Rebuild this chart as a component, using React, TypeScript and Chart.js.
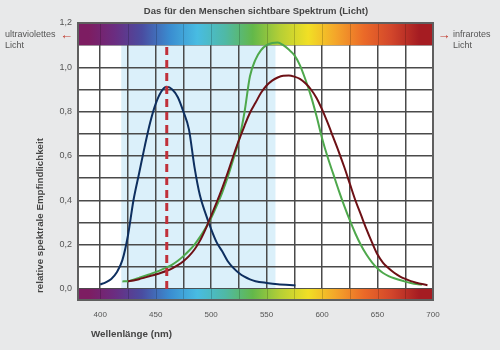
import React, { useEffect, useRef } from "react";
import { Chart, registerables } from "chart.js";

Chart.register(...registerables);

// ---------- text ----------
const titleText = "Das für den Menschen sichtbare Spektrum (Licht)";
const xTitle = "Wellenlänge (nm)";
const yTitle = "relative spektrale Empfindlichkeit";
const uvLabel = ["ultraviolettes", "Licht"];
const irLabel = ["infrarotes", "Licht"];

// ---------- axes ----------
const xMin = 380;
const xMax = 700;
const yMin = -0.05;
const yMax = 1.2;
const xGridTicks = [380, 400, 425, 450, 475, 500, 525, 550, 575, 600, 625, 650, 675, 700];
const xLabelTicks = [400, 450, 500, 550, 600, 650, 700];
const yGridTicks = [0, 0.1, 0.2, 0.3, 0.4, 0.5, 0.6, 0.7, 0.8, 0.9, 1.0, 1.1, 1.2];
const yLabelTicks = [0, 0.2, 0.4, 0.6, 0.8, 1.0, 1.2];

// ---------- bands ----------
const visibleBand = [419, 558];
const visibleBandTop = 1.1;
const spectrumTop = [1.1, 1.2];
const spectrumBottom = [-0.05, 0];
const spectrumNm = [390, 412.5, 437.5, 462.5, 487.5, 512.5, 537.5, 562.5, 587.5, 612.5, 637.5, 662.5, 687.5];
const spectrumColors = [
  "#7d1d62", "#6b2c80", "#4a4ca0", "#3a8cd0", "#48bce2", "#4fb9a6", "#63b84a",
  "#b6cf35", "#f1df25", "#f4a52a", "#eb6a28", "#d2462b", "#a51c22",
];

// ---------- series ----------
const blueNm = [400, 405, 410, 415, 420, 425, 430, 435, 440, 445, 450, 455, 460, 465, 470, 475, 480, 485, 490, 495, 500, 505, 510, 515, 520, 525, 530, 535, 540, 550, 560, 576];
const blueVal = [0.02, 0.03, 0.045, 0.075, 0.13, 0.24, 0.4, 0.52, 0.64, 0.75, 0.835, 0.89, 0.912, 0.9, 0.865, 0.8, 0.72, 0.55, 0.42, 0.34, 0.27, 0.21, 0.17, 0.125, 0.095, 0.072, 0.055, 0.043, 0.035, 0.027, 0.021, 0.016];

const greenNm = [420, 425, 430, 435, 440, 445, 450, 455, 460, 465, 470, 475, 480, 485, 490, 495, 500, 505, 510, 515, 520, 525, 530, 535, 540, 545, 550, 555, 560, 565, 570, 575, 580, 585, 590, 595, 600, 605, 610, 615, 620, 625, 630, 635, 640, 645, 650, 655, 660, 665, 670, 675, 680, 685, 690];
const greenVal = [0.034, 0.035, 0.042, 0.05, 0.058, 0.067, 0.076, 0.086, 0.097, 0.11, 0.127, 0.148, 0.172, 0.2, 0.235, 0.275, 0.32, 0.375, 0.435, 0.505, 0.585, 0.67, 0.795, 0.96, 1.035, 1.078, 1.1, 1.11, 1.112, 1.1, 1.08, 1.055, 1.01, 0.945, 0.87, 0.78, 0.68, 0.595, 0.52, 0.445, 0.375, 0.31, 0.25, 0.198, 0.155, 0.12, 0.092, 0.072, 0.058, 0.048, 0.04, 0.033, 0.027, 0.022, 0.019];

const redNm = [425, 430, 435, 440, 445, 450, 455, 460, 465, 470, 475, 480, 485, 490, 495, 500, 505, 510, 515, 520, 525, 530, 535, 540, 545, 550, 555, 560, 565, 570, 575, 580, 585, 590, 595, 600, 605, 610, 615, 620, 625, 630, 635, 640, 645, 650, 655, 660, 665, 670, 675, 680, 685, 690, 695];
const redVal = [0.034, 0.038, 0.044, 0.051, 0.058, 0.065, 0.073, 0.082, 0.093, 0.107, 0.125, 0.148, 0.178, 0.218, 0.27, 0.33, 0.39, 0.455, 0.525, 0.6, 0.67, 0.735, 0.795, 0.84, 0.885, 0.918, 0.94, 0.954, 0.962, 0.963, 0.958, 0.948, 0.928, 0.9, 0.862, 0.81, 0.75, 0.685, 0.62, 0.55, 0.475, 0.4, 0.335, 0.27, 0.21, 0.155, 0.118, 0.093, 0.073, 0.057, 0.045, 0.035, 0.028, 0.022, 0.017];

const markerNm = [460, 460];
const markerVal = [0, 1.1];

// ---------- styles ----------
const FONT = "'Liberation Sans', Arial, sans-serif";
const PAGE_BG = "#e8e9ea";
const TEXT_COLOR = "#555555";
const GRID_COLOR = "#4a4a4a";
const ARROW_COLOR = "#c0392b";

const toXY = (xs: number[], ys: number[]) => xs.map((x, i) => ({ x, y: ys[i] }));

const backgroundPlugin = {
  id: "bgBands",
  beforeDraw(chart: any) {
    const { ctx, chartArea, scales } = chart;
    const xs = scales.x;
    const ys = scales.y;
    ctx.save();
    ctx.fillStyle = "#ffffff";
    ctx.fillRect(chartArea.left, chartArea.top, chartArea.right - chartArea.left, chartArea.bottom - chartArea.top);
    const bx0 = xs.getPixelForValue(visibleBand[0]);
    const bx1 = xs.getPixelForValue(visibleBand[1]);
    const by0 = ys.getPixelForValue(visibleBandTop);
    const by1 = ys.getPixelForValue(0);
    ctx.fillStyle = "#dbf0fa";
    ctx.fillRect(bx0, by0, bx1 - bx0, by1 - by0);
    ctx.restore();
  },
  beforeDatasetsDraw(chart: any) {
    const { ctx, chartArea, scales } = chart;
    const xs = scales.x;
    const ys = scales.y;
    const left = chartArea.left;
    const right = chartArea.right;
    const grad = ctx.createLinearGradient(left, 0, right, 0);
    spectrumNm.forEach((nm, i) => {
      const p = (xs.getPixelForValue(nm) - left) / (right - left);
      grad.addColorStop(Math.min(1, Math.max(0, p)), spectrumColors[i]);
    });
    ctx.save();
    ctx.fillStyle = grad;
    for (const band of [spectrumTop, spectrumBottom]) {
      const y0 = ys.getPixelForValue(band[1]);
      const y1 = ys.getPixelForValue(band[0]);
      ctx.fillRect(left, y0, right - left, y1 - y0);
      ctx.strokeStyle = "rgba(0,0,0,0.18)";
      ctx.lineWidth = 1;
      xGridTicks.forEach((v) => {
        const px = Math.round(xs.getPixelForValue(v)) + 0.5;
        ctx.beginPath();
        ctx.moveTo(px, y0);
        ctx.lineTo(px, y1);
        ctx.stroke();
      });
    }
    ctx.restore();
  },
  afterDraw(chart: any) {
    const { ctx, chartArea } = chart;
    ctx.save();
    // frame
    ctx.strokeStyle = "#5f5f5f";
    ctx.lineWidth = 2;
    ctx.strokeRect(chartArea.left, chartArea.top, chartArea.right - chartArea.left, chartArea.bottom - chartArea.top);

    // title
    ctx.fillStyle = "#454545";
    ctx.textBaseline = "middle";
    ctx.textAlign = "center";
    ctx.font = `bold 9.5px ${FONT}`;
    ctx.fillText(titleText, 256, 11);

    // x title
    ctx.textAlign = "left";
    ctx.font = `bold 9.8px ${FONT}`;
    ctx.fillText(xTitle, 91, 334);

    // y title
    ctx.save();
    ctx.translate(40, 215.5);
    ctx.rotate(-Math.PI / 2);
    ctx.textAlign = "center";
    ctx.font = `bold 9.75px ${FONT}`;
    ctx.fillText(yTitle, 0, 0);
    ctx.restore();

    // side labels
    ctx.fillStyle = TEXT_COLOR;
    ctx.font = `9px ${FONT}`;
    ctx.textAlign = "left";
    ctx.fillText(uvLabel[0], 5, 35);
    ctx.fillText(uvLabel[1], 5, 45.5);
    ctx.fillText(irLabel[0], 453, 35);
    ctx.fillText(irLabel[1], 453, 45.5);

    ctx.fillStyle = ARROW_COLOR;
    ctx.font = `13px ${FONT}`;
    ctx.textAlign = "center";
    ctx.fillText("←", 66.5, 35);
    ctx.fillText("→", 444, 35);
    ctx.restore();
  },
};

export default function App() {
  const canvasRef = useRef<HTMLCanvasElement | null>(null);

  useEffect(() => {
    const canvas = canvasRef.current;
    if (!canvas) return;
    const chart = new Chart(canvas, {
      type: "line",
      data: {
        datasets: [
          {
            label: "marker",
            data: toXY(markerNm, markerVal),
            borderColor: "#c0303a",
            borderWidth: 3,
            borderDash: [8, 5],
            pointRadius: 0,
            fill: false,
          },
          {
            label: "L",
            data: toXY(redNm, redVal),
            borderColor: "#6d1015",
            borderWidth: 2,
            pointRadius: 0,
            cubicInterpolationMode: "monotone",
            fill: false,
          },
          {
            label: "M",
            data: toXY(greenNm, greenVal),
            borderColor: "#4ea84c",
            borderWidth: 2,
            pointRadius: 0,
            cubicInterpolationMode: "monotone",
            fill: false,
          },
          {
            label: "S",
            data: toXY(blueNm, blueVal),
            borderColor: "#0e2f5f",
            borderWidth: 2,
            pointRadius: 0,
            cubicInterpolationMode: "monotone",
            fill: false,
          },
        ],
      },
      options: {
        responsive: false,
        animation: false,
        devicePixelRatio: 1,
        layout: { padding: { left: 0, right: 67, top: 23, bottom: 0 } },
        plugins: {
          legend: { display: false },
          tooltip: { enabled: false },
          title: { display: false },
        },
        scales: {
          x: {
            type: "linear",
            min: xMin,
            max: xMax,
            afterFit: (scale: any) => {
              scale.height = 50;
            },
            afterBuildTicks: (scale: any) => {
              scale.ticks = xGridTicks.map((v) => ({ value: v }));
            },
            grid: { color: GRID_COLOR, lineWidth: 1.5, drawTicks: false },
            border: { display: false },
            ticks: {
              autoSkip: false,
              maxRotation: 0,
              padding: 10,
              color: TEXT_COLOR,
              font: { family: FONT, size: 8 },
              callback: (v: any) => (xLabelTicks.includes(Number(v)) ? String(v) : ""),
            },
          },
          y: {
            type: "linear",
            min: yMin,
            max: yMax,
            afterFit: (scale: any) => {
              scale.width = 78;
            },
            afterBuildTicks: (scale: any) => {
              scale.ticks = yGridTicks.map((v) => ({ value: v }));
            },
            grid: { color: GRID_COLOR, lineWidth: 1.5, drawTicks: false },
            border: { display: false },
            ticks: {
              padding: 6,
              color: TEXT_COLOR,
              font: { family: FONT, size: 9 },
              callback: (v: any) => {
                const n = Number(v);
                return yLabelTicks.some((t) => Math.abs(t - n) < 1e-6) ? n.toFixed(1).replace(".", ",") : "";
              },
            },
          },
        },
      },
      plugins: [backgroundPlugin],
    } as any);
    return () => chart.destroy();
  }, []);

  return (
    <div style={{ position: "absolute", left: 0, top: 0, width: 500, height: 350, background: PAGE_BG }}>
      <canvas ref={canvasRef} width={500} height={350} style={{ display: "block" }} />
    </div>
  );
}
